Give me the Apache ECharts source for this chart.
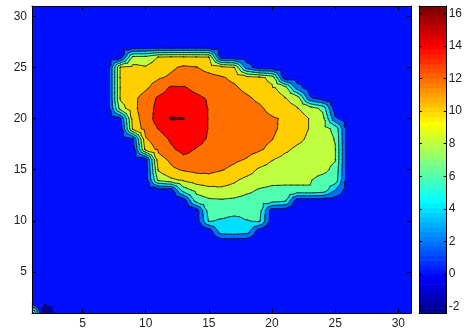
<!DOCTYPE html>
<html>
<head>
<meta charset="utf-8">
<script src="https://cdn.jsdelivr.net/npm/echarts@6/dist/echarts.min.js"></script>
<style>
html,body{margin:0;padding:0;background:#fff;}
#c{width:465px;height:334px;}
</style>
</head>
<body>
<div id="c"></div>
<script>
// ---------------- data ----------------
const xTicks = [5, 10, 15, 20, 25, 30];
const yTicks = [5, 10, 15, 20, 25, 30];
const cbTicks = [-2, 0, 2, 4, 6, 8, 10, 12, 14, 16];
const levels = [-2, 0, 2, 4, 6, 8, 10, 12, 14, 16];
const colorRange = [-2.4, 16.45];
const xRange = [1, 31];
const yRange = [1, 31];
const B = 0.8; // background level estimate
// zRows[j][i] = value at x = i+1, y = j+1  (rows listed from y = 1 upward)
const zRows = [
/* y=1  */ [9,-2.4,B,B,B,B,B,B,B,B, B,B,B,B,B,B,B,B,B,B, B,B,B,B,B,B,B,B,B,B, B],
/* y=2  */ [B,0.3,B,B,B,B,B,B,B,B, B,B,B,B,B,B,B,B,B,B, B,B,B,B,B,B,B,B,B,B, B],
/* y=3  */ [B,B,B,B,B,B,B,B,B,B, B,B,B,B,B,B,B,B,B,B, B,B,B,B,B,B,B,B,B,B, B],
/* y=4  */ [B,B,B,B,B,B,B,B,B,B, B,B,B,B,B,B,B,B,B,B, B,B,B,B,B,B,B,B,B,B, B],
/* y=5  */ [B,B,B,B,B,B,B,B,B,B, B,B,B,B,B,B,B,B,B,B, B,B,B,B,B,B,B,B,B,B, B],
/* y=6  */ [B,B,B,B,B,B,B,B,B,B, B,B,B,B,B,B,B,B,B,B, B,B,B,B,B,B,B,B,B,B, B],
/* y=7  */ [B,B,B,B,B,B,B,B,B,B, B,B,B,B,B,B,B,B,B,B, B,B,B,B,B,B,B,B,B,B, B],
/* y=8  */ [B,B,B,B,B,B,B,B,B,B, B,B,B,B,B,B,B,B,B,B, B,B,B,B,B,B,B,B,B,B, B],
/* y=9  */ [B,B,B,B,B,B,B,B,B,B, B,B,B,B,B,5.2,5.4,5.0,B,B, B,B,B,B,B,B,B,B,B,B, B],
/* y=10 */ [B,B,B,B,B,B,B,B,B,B, B,B,B,B,6.2,5.7,5.0,5.9,6.3,B, B,B,B,B,B,B,B,B,B,B, B],
/* y=11 */ [B,B,B,B,B,B,B,B,B,B, B,B,B,B,7.0,7.2,7.1,6.9,6.8,B, B,B,B,B,B,B,B,B,B,B, B],
/* y=12 */ [B,B,B,B,B,B,B,B,B,B, B,B,B,7.0,7.7,7.8,7.6,7.2,7.0,7.0, 6.5,B,B,B,B,B,B,B,B,B, B],
/* y=13 */ [B,B,B,B,B,B,B,B,B,B, B,B,7.0,8.6,9.2,9.5,9.3,8.5,7.8,7.5, 7.6,7.7,7.9,7.4,4.0,B,B,B,B,B, B],
/* y=14 */ [B,B,B,B,B,B,B,B,B,B, 8.5,9.6,10.3,11.0,11.4,11.0,10.3,9.5,9.0,8.6, 8.4,8.3,8.1,7.5,7.2,B,B,B,B,B, B],
/* y=15 */ [B,B,B,B,B,B,B,B,B,B, 10.2,11.6,12.2,12.5,12.4,12.1,11.6,10.9,9.7,9.2, 9.0,8.8,8.6,8.4,7.6,B,B,B,B,B, B],
/* y=16 */ [B,B,B,B,B,B,B,B,B,1.0, 11.2,12.4,13.5,13.3,13.0,12.7,12.3,11.9,11.2,10.1, 9.4,9.1,8.8,8.5,8.1,B,B,B,B,B, B],
/* y=17 */ [B,B,B,B,B,B,B,B,B,10.8, 12.4,13.7,14.6,13.9,13.5,13.1,12.8,12.5,12.2,11.6, 10.4,9.6,9.2,8.7,8.1,B,B,B,B,B, B],
/* y=18 */ [B,B,B,B,B,B,B,B,1.8,11.8, 13.0,14.3,15.0,14.6,13.8,13.4,13.1,12.7,12.4,12.05, 11.3,10.5,9.6,9.0,7.9,B,B,B,B,B, B],
/* y=19 */ [B,B,B,B,B,B,B,B,10.5,12.8, 14.05,15.3,15.5,15.1,13.9,13.6,13.3,13.0,12.7,12.3, 11.6,10.8,9.9,8.8,7.5,B,B,B,B,B, B],
/* y=20 */ [B,B,B,B,B,B,B,1.6,11.0,13.0, 14.8,16.1,16.05,15.2,13.9,13.6,13.3,13.0,12.6,12.2, 11.8,10.9,9.9,8.8,2.3,B,B,B,B,B, B],
/* y=21 */ [B,B,B,B,B,B,B,9.0,11.5,13.0, 14.6,15.4,15.4,15.0,13.9,13.5,13.1,12.7,12.3,11.4, 10.6,10.1,9.0,7.5,B,B,B,B,B,B, B],
/* y=22 */ [B,B,B,B,B,B,B,10.3,11.5,12.8, 14.3,14.9,14.9,14.4,13.8,13.3,12.8,12.3,11.6,10.8, 10.1,9.2,2.3,B,B,B,B,B,B,B, B],
/* y=23 */ [B,B,B,B,B,B,B,10.2,10.8,11.7, 12.9,14.3,14.2,13.5,13.0,12.6,12.3,11.5,10.8,10.3, 9.2,3.0,B,B,B,B,B,B,B,B, B],
/* y=24 */ [B,B,B,B,B,B,B,10.3,10.8,11.3, 11.8,12.3,12.8,12.9,12.6,12.2,11.6,10.9,10.5,9.4, B,B,B,B,B,B,B,B,B,B, B],
/* y=25 */ [B,B,B,B,B,B,B,10.2,10.6,10.2, 11.0,11.7,12.3,12.1,11.3,10.6,10.1,3.0,B,B, B,B,B,B,B,B,B,B,B,B, B],
/* y=26 */ [B,B,B,B,B,B,B,B,8.5,8.6, 10.1,10.3,10.3,10.2,10.1,B,B,B,B,B, B,B,B,B,B,B,B,B,B,B, B],
/* y=27 */ [B,B,B,B,B,B,B,B,B,B, B,B,B,B,B,B,B,B,B,B, B,B,B,B,B,B,B,B,B,B, B],
/* y=28 */ [B,B,B,B,B,B,B,B,B,B, B,B,B,B,B,B,B,B,B,B, B,B,B,B,B,B,B,B,B,B, B],
/* y=29 */ [B,B,B,B,B,B,B,B,B,B, B,B,B,B,B,B,B,B,B,B, B,B,B,B,B,B,B,B,B,B, B],
/* y=30 */ [B,B,B,B,B,B,B,B,B,B, B,B,B,B,B,B,B,B,B,B, B,B,B,B,B,B,B,B,B,B, B],
/* y=31 */ [B,B,B,B,B,B,B,B,B,B, B,B,B,B,B,B,B,B,B,B, B,B,B,B,B,B,B,B,B,B, B]
];

// ---------------- MATLAB jet(64) colormap ----------------
function jetU(t) {
  if (t < 1 || t > 47) return 0;
  if (t <= 16) return t / 16;
  if (t <= 31) return 1;
  return (48 - t) / 16;
}
function jet64(k) {
  const r = jetU(k - 24), g = jetU(k - 8), b = jetU(k + 8);
  return 'rgb(' + Math.round(r * 255) + ',' + Math.round(g * 255) + ',' + Math.round(b * 255) + ')';
}
function colorOf(v) {
  let k = Math.floor((v - colorRange[0]) / (colorRange[1] - colorRange[0]) * 64) + 1;
  if (k < 1) k = 1;
  if (k > 64) k = 64;
  return jet64(k);
}

// ---------------- contour geometry (marching triangles) ----------------
function clipPoly(poly, L) {
  const out = [];
  for (let k = 0; k < poly.length; k++) {
    const p = poly[k], q = poly[(k + 1) % poly.length];
    const pin = p.v >= L, qin = q.v >= L;
    if (pin) out.push(p);
    if (pin !== qin) {
      const t = (L - p.v) / (q.v - p.v);
      out.push({x: p.x + t * (q.x - p.x), y: p.y + t * (q.y - p.y), v: L});
    }
  }
  return out;
}
function polyPath(poly) {
  let s = 'M' + poly[0].x.toFixed(2) + ' ' + poly[0].y.toFixed(2);
  for (let k = 1; k < poly.length; k++) s += 'L' + poly[k].x.toFixed(2) + ' ' + poly[k].y.toFixed(2);
  return s + 'Z';
}

function renderContour(params, api) {
  const ny = zRows.length, nx = zRows[0].length;
  const pts = [];
  for (let j = 0; j < ny; j++) {
    pts.push([]);
    for (let i = 0; i < nx; i++) {
      const c = api.coord([i + 1, j + 1]);
      pts[j].push({x: c[0], y: c[1], v: zRows[j][i]});
    }
  }
  const tris = [];
  for (let j = 0; j < ny - 1; j++) {
    for (let i = 0; i < nx - 1; i++) {
      const a = pts[j][i], b = pts[j][i + 1], c = pts[j + 1][i + 1], d = pts[j + 1][i];
      const mc = api.coord([i + 1.5, j + 1.5]);
      const m = {x: mc[0], y: mc[1], v: (a.v + b.v + c.v + d.v) / 4};
      tris.push([m, a, b], [m, b, c], [m, c, d], [m, d, a]);
    }
  }
  const children = [];
  const p0 = api.coord([xRange[0], yRange[0]]), p1 = api.coord([xRange[1], yRange[1]]);
  children.push({
    type: 'rect',
    shape: {x: p0[0], y: p1[1], width: p1[0] - p0[0], height: p0[1] - p1[1]},
    style: {fill: colorOf(colorRange[0])}
  });
  levels.forEach(function (L) {
    let d = '';
    for (const t of tris) {
      if (t[0].v < L && t[1].v < L && t[2].v < L) continue;
      const cp = clipPoly(t, L);
      if (cp.length >= 3) d += polyPath(cp);
    }
    if (d) children.push({type: 'path', shape: {pathData: d}, style: {fill: colorOf(L), stroke: null}});
  });
  levels.forEach(function (L) {
    let d = '';
    for (const t of tris) {
      const seg = [];
      for (let k = 0; k < 3; k++) {
        const p = t[k], q = t[(k + 1) % 3];
        if ((p.v >= L) !== (q.v >= L)) {
          const s = (L - p.v) / (q.v - p.v);
          seg.push([p.x + s * (q.x - p.x), p.y + s * (q.y - p.y)]);
        }
      }
      if (seg.length === 2) {
        d += 'M' + seg[0][0].toFixed(2) + ' ' + seg[0][1].toFixed(2) + 'L' + seg[1][0].toFixed(2) + ' ' + seg[1][1].toFixed(2);
      }
    }
    if (d) children.push({type: 'path', shape: {pathData: d}, style: {fill: null, stroke: '#111', lineWidth: 0.8, lineCap: 'round', lineJoin: 'round'}});
  });
  return {type: 'group', children: children};
}

function renderColorbar(params, api) {
  const children = [];
  const step = (colorRange[1] - colorRange[0]) / 64;
  for (let k = 1; k <= 64; k++) {
    const lo = colorRange[0] + (k - 1) * step, hi = lo + step;
    const a = api.coord([0, lo]), b = api.coord([1, hi]);
    children.push({
      type: 'rect',
      shape: {x: a[0], y: b[1], width: b[0] - a[0], height: a[1] - b[1] + (k > 1 ? 0.6 : 0)},
      style: {fill: jet64(k)}
    });
  }
  return {type: 'group', children: children};
}

// ---------------- chart ----------------
const font = {fontFamily: 'Liberation Sans', fontSize: 12, color: '#222'};
const lineStyle = {color: '#000', width: 1};

function axisBase(extra) {
  return Object.assign({
    type: 'value', z: 10,
    axisLine: {show: true, onZero: false, lineStyle: lineStyle},
    splitLine: {show: false}
  }, extra);
}

const option = {
  animation: false,
  backgroundColor: '#fff',
  grid: [
    {left: 32, top: 6, width: 379, height: 307},
    {left: 419, top: 6, width: 28, height: 307}
  ],
  xAxis: [
    axisBase({gridIndex: 0, position: 'bottom', min: xRange[0], max: xRange[1],
     axisTick: {show: true, inside: true, length: 4, lineStyle: lineStyle, customValues: xTicks},
     axisLabel: Object.assign({show: true, margin: 5, customValues: xTicks}, font)}),
    axisBase({gridIndex: 0, position: 'top', min: xRange[0], max: xRange[1],
     axisTick: {show: true, inside: true, length: 4, lineStyle: lineStyle, customValues: xTicks},
     axisLabel: {show: false}}),
    axisBase({gridIndex: 1, position: 'bottom', min: 0, max: 1,
     axisTick: {show: false}, axisLabel: {show: false}}),
    axisBase({gridIndex: 1, position: 'top', min: 0, max: 1,
     axisTick: {show: false}, axisLabel: {show: false}})
  ],
  yAxis: [
    axisBase({gridIndex: 0, position: 'left', min: yRange[0], max: yRange[1],
     axisTick: {show: true, inside: true, length: 4, lineStyle: lineStyle, customValues: yTicks},
     axisLabel: Object.assign({show: true, margin: 5, customValues: yTicks}, font)}),
    axisBase({gridIndex: 0, position: 'right', min: yRange[0], max: yRange[1],
     axisTick: {show: true, inside: true, length: 4, lineStyle: lineStyle, customValues: yTicks},
     axisLabel: {show: false}}),
    axisBase({gridIndex: 1, position: 'right', min: colorRange[0], max: colorRange[1],
     axisTick: {show: true, inside: true, length: 3, lineStyle: lineStyle, customValues: cbTicks},
     axisLabel: Object.assign({show: true, margin: 2, customValues: cbTicks}, font)}),
    axisBase({gridIndex: 1, position: 'left', min: colorRange[0], max: colorRange[1],
     axisTick: {show: true, inside: true, length: 3, lineStyle: lineStyle, customValues: cbTicks},
     axisLabel: {show: false}})
  ],
  series: [
    {type: 'custom', xAxisIndex: 0, yAxisIndex: 0, silent: true, z: 2, clip: false,
     data: [[xRange[0], yRange[0]]], renderItem: renderContour},
    {type: 'custom', xAxisIndex: 2, yAxisIndex: 2, silent: true, z: 2, clip: false,
     data: [[0, colorRange[0]]], renderItem: renderColorbar}
  ]
};

const chart = echarts.init(document.getElementById('c'), null, {renderer: 'canvas'});
chart.setOption(option);
</script>
</body>
</html>
